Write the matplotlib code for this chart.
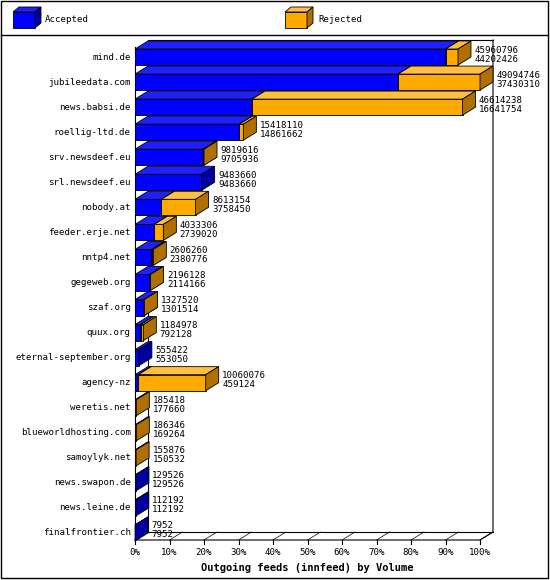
import matplotlib
matplotlib.use("Agg")
import matplotlib.pyplot as plt
from matplotlib.patches import Polygon, Rectangle

sites = ["mind.de","jubileedata.com","news.babsi.de","roellig-ltd.de","srv.newsdeef.eu",
         "srl.newsdeef.eu","nobody.at","feeder.erje.net","nntp4.net","gegeweb.org",
         "szaf.org","quux.org","eternal-september.org","agency-nz","weretis.net",
         "blueworldhosting.com","samoylyk.net","news.swapon.de","news.leine.de","finalfrontier.ch"]
offered = [45960796,49094746,46614238,15418110,9819616,9483660,8613154,4033306,2606260,2196128,
           1327520,1184978,555422,10060076,185418,186346,155876,129526,112192,7952]
accepted = [44202426,37430310,16641754,14861662,9705936,9483660,3758450,2739020,2380776,2114166,
            1301514,792128,553050,459124,177660,169264,150532,129526,112192,7952]
xticks = list(range(0, 101, 10))

plt.rcParams['font.family'] = ['DejaVu Sans Mono']
FS = 6.6
W, H = 550, 580
fig = plt.figure(figsize=(W/100, H/100), dpi=100)
ax = fig.add_axes([135/W, 1-540/H, 345/W, 500/H])
ax.set_xlim(0, 100)
ax.set_ylim(19.28, -0.68)
ax.axis('off')
DX = 13/345*100
DY = 8/25.0
hh = 0.32
maxv = max(offered)

def box(x0, x1, y, front, top, side, zo, draw_side=True):
    ax.add_patch(Polygon([(x0,y+hh),(x1,y+hh),(x1,y-hh),(x0,y-hh)], closed=True, fc=front, ec='black', lw=0.6, zorder=zo, clip_on=False))
    ax.add_patch(Polygon([(x0,y-hh),(x1,y-hh),(x1+DX,y-hh-DY),(x0+DX,y-hh-DY)], closed=True, fc=top, ec='black', lw=0.6, zorder=zo, clip_on=False))
    if draw_side:
        ax.add_patch(Polygon([(x1,y+hh),(x1,y-hh),(x1+DX,y-hh-DY),(x1+DX,y+hh-DY)], closed=True, fc=side, ec='black', lw=0.6, zorder=zo, clip_on=False))

top_y = -0.68
ax.plot([0,0],[19.28,top_y+DY*0.9], color='black', lw=0.8, clip_on=False)
ax.plot([DX,DX,100+DX],[19.28-DY, top_y, top_y], color='black', lw=0.8, clip_on=False)
ax.plot([0,100,100+DX,100+DX],[19.28,19.28,19.28-DY,top_y], color='black', lw=0.8, clip_on=False)
ax.plot([DX,100+DX],[19.28-DY,19.28-DY], color='black', lw=0.8, clip_on=False)
for t in xticks:
    ax.plot([t,t],[19.28,19.28+0.15], color='black', lw=0.8, clip_on=False)
    ax.plot([t,t+DX],[19.28,19.28-DY], color='black', lw=0.5, clip_on=False)
    ax.text(t, 19.28+0.3, f"{t}%", ha='center', va='top', fontsize=FS)
ax.text(50, 19.28+0.9, "Outgoing feeds (innfeed) by Volume", ha='center', va='top', fontsize=7.5, fontweight='bold')

for i, (s, o, a) in enumerate(zip(sites, offered, accepted)):
    po = o/maxv*100
    pa = a/maxv*100
    has_rej = po - pa > 0.01
    if pa > 0.6 or not has_rej:
        box(0, pa, i, '#0000ff', '#2020ff', '#0000a0', 3+i*0.01)
        x0 = pa
    else:
        x0 = 0
    if has_rej:
        box(x0, po, i, '#ffaa00', '#ffc040', '#b07000', 3.005+i*0.01)
    ax.text(-1.2, i, s, ha='right', va='center', fontsize=FS)
    ax.text(po+DX+1, i-0.1, f"{o}", ha='left', va='bottom', fontsize=FS, linespacing=1)
    ax.text(po+DX+1, i-0.1, f"{a}", ha='left', va='top', fontsize=FS, linespacing=1)

lg = fig.add_axes([0, 0, 1, 1], zorder=-1)
lg.set_xlim(0, W); lg.set_ylim(H, 0); lg.axis('off')
lg.add_patch(Rectangle((1,1),W-3,H-3, fill=False, ec='black', lw=1))
lg.plot([1,W-2],[35,35], color='black', lw=1)
def cube(x, y, front, top, side):
    lg.add_patch(Polygon([(x,y),(x+22,y),(x+22,y+16),(x,y+16)], fc=front, ec='black', lw=0.6))
    lg.add_patch(Polygon([(x,y),(x+6,y-5),(x+28,y-5),(x+22,y)], fc=top, ec='black', lw=0.6))
    lg.add_patch(Polygon([(x+22,y),(x+28,y-5),(x+28,y+11),(x+22,y+16)], fc=side, ec='black', lw=0.6))
cube(13, 12, '#0000ff', '#2020ff', '#0000a0')
lg.text(45, 20, "Accepted", va='center', fontsize=FS)
cube(285, 12, '#ffaa00', '#ffc040', '#b07000')
lg.text(318, 20, "Rejected", va='center', fontsize=FS)

fig.savefig("out.png", dpi=100, facecolor='white')
